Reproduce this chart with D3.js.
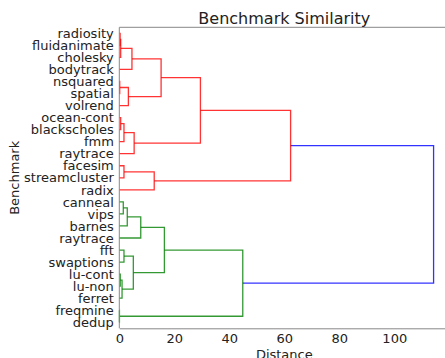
<!DOCTYPE html>
<html>
<head>
<meta charset="utf-8">
<script src="https://cdn.jsdelivr.net/npm/d3@7"></script>
<style>
  body { margin: 0; background: #fff; }
  text { font-family: "DejaVu Sans", sans-serif; fill: #222; }
</style>
</head>
<body>
<script>
// leaves, top to bottom as shown
const leafLabels = ["radiosity", "fluidanimate", "cholesky", "bodytrack", "nsquared", "spatial",
    "volrend", "ocean-cont", "blackscholes", "fmm", "raytrace", "facesim", "streamcluster", "radix",
    "canneal", "vips", "barnes", "raytrace", "fft", "swaptions", "lu-cont", "lu-non", "ferret",
    "freqmine", "dedup"];

// linkage: [child a, child b, distance]; new cluster id = leaves + row
const merges = [
    [0, 1, 0.3],
    [25, 2, 0.5],
    [26, 3, 4.6],
    [4, 5, 0.15],
    [28, 6, 3.3],
    [27, 29, 15.2],
    [7, 8, 0.5],
    [31, 9, 1.7],
    [32, 10, 5.4],
    [30, 33, 29.5],
    [11, 12, 1.7],
    [35, 13, 12.7],
    [34, 36, 62.3],
    [14, 15, 1.45],
    [38, 16, 2.9],
    [39, 17, 7.8],
    [18, 19, 1.7],
    [20, 21, 0.35],
    [42, 22, 1.0],
    [41, 43, 5.1],
    [40, 44, 16.4],
    [23, 24, 0.05],
    [45, 46, 44.9],
    [37, 47, 114.3]
];

const xTicks = [0, 20, 40, 60, 80, 100];
const clusterColors = ["#008000", "#ff0000"];
const aboveColor = "#0000ff";

const width = 445, height = 358;
const marginLeft = 119.3, marginTop = 27.3, plotBottom = 328.3;

const svg = d3.select("body").append("svg")
    .attr("width", width)
    .attr("height", height);

// tree
const n = leafLabels.length;
const nodes = leafLabels.map((name, i) => ({ id: i, name: name, dist: 0 }));
merges.forEach((m, i) => {
    nodes.push({ id: n + i, dist: m[2], children: [nodes[m[0]], nodes[m[1]]] });
});
const root = d3.hierarchy(nodes[nodes.length - 1]);
d3.cluster().size([n * 10, 1]).separation(() => 1)(root);

const maxDist = root.data.dist;
const threshold = 0.7 * maxDist;

const xScale = d3.scaleLinear().domain([0, maxDist * 1.05]).range([marginLeft, marginLeft + 330]);
const yScale = d3.scaleLinear().domain([0, n * 10]).range([marginTop, plotBottom]);

// color clusters (bottom first, like scipy)
const clusters = root.descendants()
    .filter(d => d.children && d.data.dist < threshold && d.parent && d.parent.data.dist >= threshold)
    .sort((a, b) => b.x - a.x);
clusters.forEach((c, i) => c.each(d => { d.color = clusterColors[i % clusterColors.length]; }));
root.each(d => { if (!d.color) d.color = aboveColor; });

const links = root.descendants().filter(d => d.children);

svg.append("g")
    .selectAll("path")
    .data(links)
    .join("path")
    .attr("fill", "none")
    .attr("stroke", d => d.color)
    .attr("stroke-opacity", 0.8)
    .attr("stroke-width", 1.3)
    .attr("d", d => {
        const [a, b] = d.children;
        return "M" + xScale(a.data.dist) + "," + yScale(a.x)
            + "H" + xScale(d.data.dist)
            + "V" + yScale(b.x)
            + "H" + xScale(b.data.dist);
    });

// spines
const spine = "#888";
svg.append("line").attr("x1", marginLeft).attr("x2", width).attr("y1", marginTop).attr("y2", marginTop)
    .attr("stroke", spine);
svg.append("line").attr("x1", marginLeft).attr("x2", marginLeft).attr("y1", marginTop).attr("y2", plotBottom)
    .attr("stroke", spine);

// x axis
const xAxis = svg.append("g")
    .attr("transform", "translate(0," + plotBottom + ")")
    .call(d3.axisBottom(xScale).tickValues(xTicks).tickSize(0).tickPadding(5));
xAxis.select(".domain").attr("stroke", spine);
xAxis.selectAll("text").attr("font-size", 13).attr("font-family", "DejaVu Sans").attr("fill", "#222");

// leaf labels
svg.append("g")
    .selectAll("text")
    .data(root.leaves())
    .join("text")
    .attr("x", marginLeft - 5.5)
    .attr("y", d => yScale(d.x))
    .attr("dy", "0.36em")
    .attr("text-anchor", "end")
    .attr("font-size", 13)
    .text(d => d.data.name);

// title and axis labels
svg.append("text")
    .attr("x", (xScale.range()[0] + xScale.range()[1]) / 2)
    .attr("y", 24)
    .attr("text-anchor", "middle")
    .attr("font-size", 16)
    .text("Benchmark Similarity");

svg.append("text")
    .attr("x", (xScale.range()[0] + xScale.range()[1]) / 2)
    .attr("y", 358.5)
    .attr("text-anchor", "middle")
    .attr("font-size", 13)
    .text("Distance");

svg.append("text")
    .attr("transform", "translate(19," + (marginTop + plotBottom) / 2 + ") rotate(-90)")
    .attr("text-anchor", "middle")
    .attr("font-size", 13)
    .text("Benchmark");
</script>
</body>
</html>
